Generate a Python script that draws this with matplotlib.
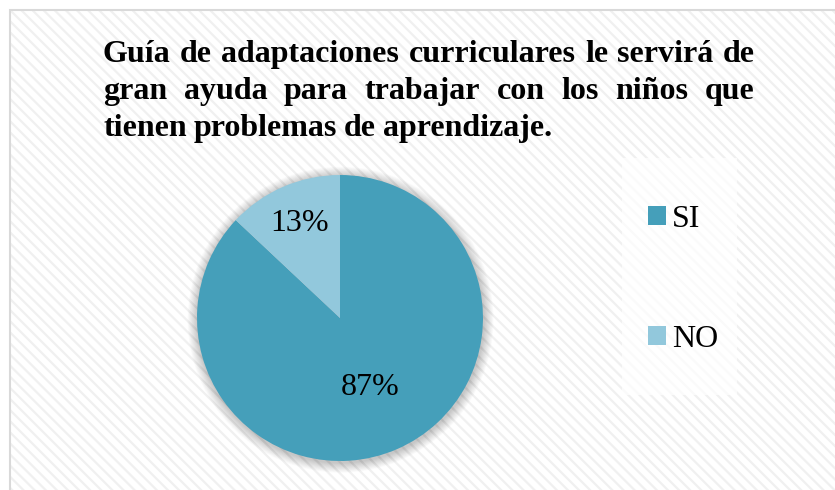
import matplotlib
matplotlib.use("Agg")
import matplotlib.pyplot as plt
from matplotlib.patches import Rectangle, Circle, Patch
import numpy as np

# ---- data ----
categories = ["SI", "NO"]
values = [87, 13]
pct_labels = ["87%", "13%"]
colors = ["#459FBA", "#92C8DC"]
title_lines = [
    "Guía de adaptaciones curriculares le servirá de",
    "gran ayuda para trabajar con los niños que",
    "tienen problemas de aprendizaje.",
]

W, H = 835, 490
plt.rcParams["hatch.linewidth"] = 1.6
fig = plt.figure(figsize=(W / 100, H / 100), dpi=100)
fig.patch.set_facecolor("white")

def fx(px):
    return px / W

def fy(py):
    return (H - py) / H

# background hatch panel
bg = Rectangle((fx(10), -0.1), 1.2, fy(10) + 0.1, transform=fig.transFigure,
               facecolor="white", edgecolor="#f0f0f0", hatch="\\\\\\", lw=0, zorder=-3)
fig.patches.append(bg)
border = Rectangle((fx(10), -0.1), 1.2, fy(10) + 0.1, transform=fig.transFigure,
                   facecolor="none", edgecolor="#d9d9d9", lw=1.5, zorder=-2)
fig.patches.append(border)

# legend panel (slightly whiter)
lp = Rectangle((fx(622), fy(395)), fx(737) - fx(622), fy(158) - fy(395),
               transform=fig.transFigure, facecolor="white", edgecolor="none",
               alpha=0.7, zorder=-2)
fig.patches.append(lp)

# title, justified
serif = "Liberation Serif"
fs = 23
renderer = fig.canvas.get_renderer()
left, right = 103, 755
baselines = [62, 99, 136]
for i, line in enumerate(title_lines):
    words = line.split()
    objs = [fig.text(0, fy(baselines[i]), w, fontsize=fs, fontweight="bold",
                     family=serif, va="baseline", ha="left") for w in words]
    widths = [o.get_window_extent(renderer).width for o in objs]
    gap = (right - left - sum(widths)) / (len(words) - 1)
    if i == len(title_lines) - 1:
        gap = min(gap, 7)
    x = left
    for o, w in zip(objs, widths):
        o.set_x(fx(x))
        x += w + gap

# pie
cx, cy, r = 340, 318, 143
ax = fig.add_axes([fx(cx - r), fy(cy + r), 2 * r / W, 2 * r / H])
ax.set_zorder(1)
ax.patch.set_visible(False)

# soft shadow
for k in range(14):
    rr = 1.0 + 0.005 * (k + 1)
    c = Circle((0.004, -0.012), rr, facecolor="#000000", alpha=0.014,
               edgecolor="none", clip_on=False, zorder=0)
    ax.add_patch(c)

wedges, _ = ax.pie(values, colors=colors, startangle=90, counterclock=False,
                   radius=1, wedgeprops=dict(linewidth=0))
for w in wedges:
    w.set_zorder(2)
ax.set_xlim(-1, 1)
ax.set_ylim(-1, 1)
ax.axis("off")

dists = [0.53, 0.72]
for w, lab, d in zip(wedges, pct_labels, dists):
    ang = np.deg2rad((w.theta1 + w.theta2) / 2)
    ax.text(d * np.cos(ang), d * np.sin(ang), lab, ha="center", va="center",
            fontsize=fs, family=serif, zorder=3)

# legend
handles = [Patch(facecolor=c, edgecolor="none") for c in colors]
leg = fig.legend(handles, categories, loc="upper left",
                 bbox_to_anchor=(fx(648), fy(205)), frameon=False,
                 prop=dict(family=serif, size=fs), labelspacing=2.85,
                 handlelength=0.55, handleheight=0.55, handletextpad=0.2,
                 borderpad=0, borderaxespad=0)

fig.savefig("out.png", dpi=100)
